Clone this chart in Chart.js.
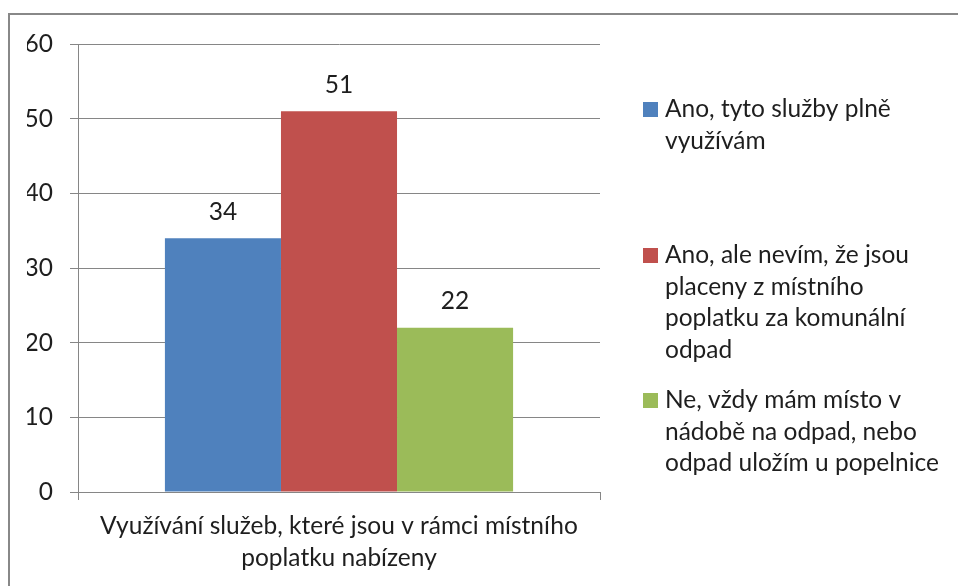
<!DOCTYPE html>
<html>
<head>
    <meta charset="UTF-8" />
    <script src="https://cdn.jsdelivr.net/npm/chart.js@4.4.0/dist/chart.umd.min.js"></script>
    <style>
        html, body { margin: 0; padding: 0; background: #fff; overflow: hidden; }
        #wrap { position: relative; width: 958px; height: 586px; }
    </style>
</head>
<body>
    <div id="wrap"><canvas id="chart" width="958" height="586"></canvas></div>

    <script>
        // data
        const categories = [['Využívání služeb, které jsou v rámci místního', 'poplatku nabízeny']];
        const seriesNames = [
            'Ano, tyto služby plně\nvyužívám',
            'Ano, ale nevím, že jsou\nplaceny z místního\npoplatku za komunální\nodpad',
            'Ne, vždy mám místo v\nnádobě na odpad, nebo\nodpad uložím u popelnice'
        ];
        const seriesValues = [[34], [51], [22]];
        const seriesColors = ['#4F81BD', '#C0504D', '#9BBB59'];
        const yTicks = [0, 10, 20, 30, 40, 50, 60];

        const FONT = 'Lato, "Open Sans", sans-serif';
        const FSIZE = 24.5;
        const TEXT = '#1e1e1e';

        // frame around the whole chart
        const framePlugin = {
            id: 'frame',
            beforeDraw(chart) {
                const c = chart.ctx;
                c.save();
                c.strokeStyle = '#888';
                c.lineWidth = 2;
                c.strokeRect(9, 14, 1200, 1200);
                c.restore();
            }
        };

        // value labels above the bars
        const valuePlugin = {
            id: 'values',
            afterDatasetsDraw(chart) {
                const c = chart.ctx;
                c.save();
                c.font = FSIZE + 'px ' + FONT;
                c.fillStyle = TEXT;
                c.textAlign = 'center';
                c.textBaseline = 'bottom';
                chart.data.datasets.forEach((ds, i) => {
                    chart.getDatasetMeta(i).data.forEach((bar, j) => {
                        c.fillText(ds.data[j], bar.x, bar.y - 14);
                    });
                });
                c.restore();
            }
        };

        // legend on the right, multi-line entries
        const legendTops = [117, 263, 408];
        const legendPlugin = {
            id: 'sideLegend',
            afterDraw(chart) {
                const c = chart.ctx;
                c.save();
                c.font = FSIZE + 'px ' + FONT;
                c.textBaseline = 'alphabetic';
                seriesNames.forEach((name, i) => {
                    const base = legendTops[i];
                    c.fillStyle = seriesColors[i];
                    c.fillRect(643, base - 15, 15, 15);
                    c.fillStyle = TEXT;
                    name.split('\n').forEach((line, k) => {
                        c.fillText(line, 665, base + k * 31.5);
                    });
                });
                c.restore();
            }
        };

        const ctx = document.getElementById('chart').getContext('2d');
        const myChart = new Chart(ctx, {
            type: 'bar',
            data: {
                labels: categories,
                datasets: seriesNames.map((n, i) => ({
                    label: n.replace(/\n/g, ' '),
                    data: seriesValues[i],
                    backgroundColor: seriesColors[i],
                    borderWidth: 0,
                    barPercentage: 1,
                    categoryPercentage: 0.667
                }))
            },
            options: {
                responsive: false,
                animation: false,
                layout: { padding: { left: 27, top: 44, right: 358, bottom: 14 } },
                plugins: {
                    legend: { display: false },
                    tooltip: { enabled: false }
                },
                scales: {
                    x: {
                        grid: { display: true, drawOnChartArea: false, color: '#868686', tickLength: 8, offset: true },
                        border: { color: '#868686', width: 1 },
                        ticks: { font: { family: FONT, size: FSIZE, lineHeight: 1.27 }, color: TEXT, padding: 11, maxRotation: 0 },
                        afterFit(s) { s.height = 586 - 492 - 14; }
                    },
                    y: {
                        min: 0,
                        max: 60,
                        afterBuildTicks(s) { s.ticks = yTicks.map(v => ({ value: v })); },
                        grid: { color: '#868686', tickLength: 8 },
                        border: { color: '#868686', width: 1 },
                        ticks: { font: { family: FONT, size: FSIZE }, color: TEXT, padding: 17 },
                        afterFit(s) { s.width = 78 - 27; }
                    }
                }
            },
            plugins: [framePlugin, valuePlugin, legendPlugin]
        });
    </script>
</body>
</html>
